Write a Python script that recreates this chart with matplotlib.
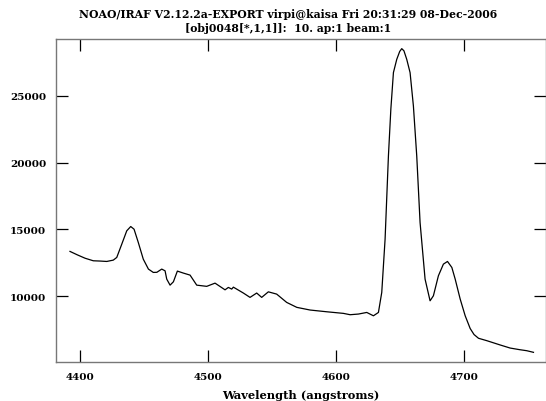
import matplotlib
matplotlib.use("Agg")
import matplotlib.pyplot as plt
import numpy as np

# spectrum (wavelength in angstroms, flux)
wave = [4392.2, 4398.0, 4404.0, 4410.4, 4415.7, 4420.9, 4426.0, 4428.7, 4432.6,
        4436.5, 4439.6, 4442.2, 4445.5, 4449.4, 4453.4, 4457.2, 4460.0, 4463.8,
        4466.4, 4467.7, 4470.3, 4472.9, 4476.0, 4480.7, 4485.9, 4491.1, 4498.9,
        4505.4, 4513.2, 4515.8, 4518.4, 4519.7, 4527.5, 4532.7, 4537.9, 4541.8,
        4547.0, 4553.5, 4561.3, 4569.2, 4579.6, 4592.6, 4605.6, 4610.8, 4617.3,
        4623.8, 4629.0, 4632.9, 4635.5, 4638.1, 4640.7, 4642.6, 4644.6, 4647.2,
        4649.5, 4651.1, 4652.8, 4655.0, 4657.6, 4660.2, 4662.8, 4665.4, 4669.3,
        4673.2, 4675.8, 4679.7, 4683.6, 4686.8, 4690.2, 4692.8, 4696.7, 4700.6,
        4704.5, 4707.5, 4711.0, 4717.5, 4727.9, 4735.7, 4743.0, 4748.7, 4753.9]
flux = [13360, 13100, 12850, 12660, 12640, 12610, 12710, 12910, 13900,
        14900, 15220, 15020, 14030, 12780, 12040, 11790, 11800, 12040,
        11910, 11290, 10840, 11090, 11890, 11740, 11590, 10840, 10750,
        10990, 10490, 10670, 10545, 10690, 10250, 9925, 10250, 9925,
        10340, 10170, 9550, 9180, 8980, 8850, 8730, 8630, 8680,
        8800, 8550, 8800, 10300, 14280, 20490, 24000, 26720, 27710,
        28300, 28510, 28350, 27710, 26720, 24220, 20490, 15520, 11290,
        9670, 10045, 11540, 12410, 12610, 12160, 11290, 9800, 8552,
        7600, 7150, 6870, 6690, 6370, 6140, 6020, 5940, 5820]

title = ("NOAO/IRAF V2.12.2a-EXPORT virpi@kaisa Fri 20:31:29 08-Dec-2006\n"
         "[obj0048[*,1,1]]:  10. ap:1 beam:1")

font = {"family": "DejaVu Serif", "weight": "bold", "size": 7.5}

fig = plt.figure(figsize=(5.46, 4.02), dpi=100)
ax = fig.add_axes([0.1026, 0.097, 0.897, 0.8035])
ax.plot(wave, flux, color="black", lw=0.9)

ax.set_xlim(4381.3, 4763.5)
ax.set_ylim(5097, 29231)
ax.set_xticks([4400, 4500, 4600, 4700])
ax.set_yticks([10000, 15000, 20000, 25000])
ax.tick_params(direction="in", length=8.5, width=0.9, top=True, right=True,
               labeltop=False, labelright=False, pad=7)
for lab in ax.get_xticklabels() + ax.get_yticklabels():
    lab.set_fontfamily(font["family"])
    lab.set_fontweight("bold")
    lab.set_fontsize(7.5)
for sp in ax.spines.values():
    sp.set_color("#777777")
    sp.set_linewidth(1.0)

ax.set_xlabel("Wavelength (angstroms)", fontdict=dict(font, size=8.2),
              labelpad=6)
fig.text(0.527, 0.9465, title, ha="center", va="center",
         fontdict=dict(font, size=7.8), linespacing=1.25)

fig.savefig("out.png", dpi=100)
